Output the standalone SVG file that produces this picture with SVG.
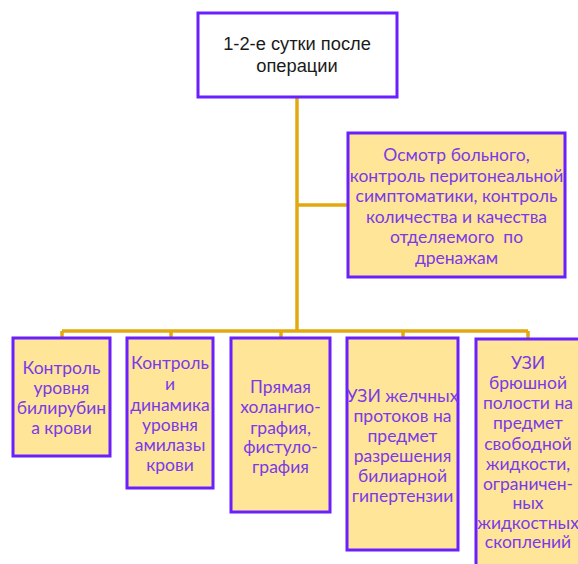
<svg xmlns="http://www.w3.org/2000/svg" width="578" height="564" viewBox="0 0 578 564">
<style>
.box{fill:#ffe597;stroke:#6a1fff;stroke-width:3}
.top{fill:#ffffff;stroke:#6a1fff;stroke-width:3}
.t{font-family:Lato,"Open Sans","DejaVu Sans",sans-serif;font-size:17.5px;fill:#7a3ae8;text-anchor:middle}
.tt{font-family:"Liberation Sans",Arial,sans-serif;font-size:18.3px;fill:#1a1a1a;text-anchor:middle}
.c{fill:none;stroke:#e2a90f;stroke-width:3.5}
.pre{white-space:pre}
</style>
<rect width="578" height="564" fill="#ffffff"/>
<g id="connectors">
<path class="c" d="M297 97V331M297 205H348M62 331H528M62 331V338M171 331V338M281 331V338M403 331V338M528 331V339"/>
</g>
<g id="n0">
<rect class="top" x="198" y="13" width="199" height="84"/>
<text class="tt" x="297" y="49.5">1-2-е сутки после</text>
<text class="tt" x="297" y="71.5">операции</text>
</g>
<g id="n1">
<rect class="box" x="348" y="133" width="217" height="144"/>
<text class="t" x="456.5" y="161">Осмотр больного,</text>
<text class="t" x="456.5" y="181.5">контроль перитонеальной</text>
<text class="t" x="456.5" y="202">симптоматики, контроль</text>
<text class="t" x="456.5" y="222.5">количества и качества</text>
<text class="t pre" x="456.5" y="243" xml:space="preserve">отделяемого  по</text>
<text class="t" x="456.5" y="263.5">дренажам</text>
</g>
<g id="n2">
<rect class="box" x="13" y="338" width="97" height="118"/>
<text class="t" x="61.5" y="374">Контроль</text>
<text class="t" x="61.5" y="394">уровня</text>
<text class="t" x="61.5" y="414">билирубин</text>
<text class="t" x="61.5" y="434">а крови</text>
</g>
<g id="n3">
<rect class="box" x="127" y="338" width="86" height="150"/>
<text class="t" x="170" y="369">Контроль</text>
<text class="t" x="170" y="390">и</text>
<text class="t" x="170" y="411">динамика</text>
<text class="t" x="170" y="431">уровня</text>
<text class="t" x="170" y="451">амилазы</text>
<text class="t" x="170" y="471">крови</text>
</g>
<g id="n4">
<rect class="box" x="231" y="338" width="99" height="174"/>
<text class="t" x="280.5" y="393">Прямая</text>
<text class="t" x="280.5" y="413">холангио-</text>
<text class="t" x="280.5" y="434">графия,</text>
<text class="t" x="280.5" y="453">фистуло-</text>
<text class="t" x="280.5" y="473">графия</text>
</g>
<g id="n5">
<rect class="box" x="347" y="338" width="111" height="212"/>
<text class="t" x="402.5" y="402">УЗИ желчных</text>
<text class="t" x="402.5" y="422">протоков на</text>
<text class="t" x="402.5" y="442">предмет</text>
<text class="t" x="402.5" y="462">разрешения</text>
<text class="t" x="402.5" y="482">билиарной</text>
<text class="t" x="402.5" y="502">гипертензии</text>
</g>
<g id="n6">
<rect class="box" x="476" y="339" width="106" height="232"/>
<text class="t" x="528" y="369">УЗИ</text>
<text class="t" x="528" y="389">брюшной</text>
<text class="t" x="528" y="409">полости на</text>
<text class="t" x="528" y="429">предмет</text>
<text class="t" x="528" y="450">свободной</text>
<text class="t" x="528" y="470">жидкости,</text>
<text class="t" x="528" y="490">ограничен-</text>
<text class="t" x="528" y="509">ных</text>
<text class="t" x="528" y="529">жидкостных</text>
<text class="t" x="528" y="548">скоплений</text>
</g>
</svg>
